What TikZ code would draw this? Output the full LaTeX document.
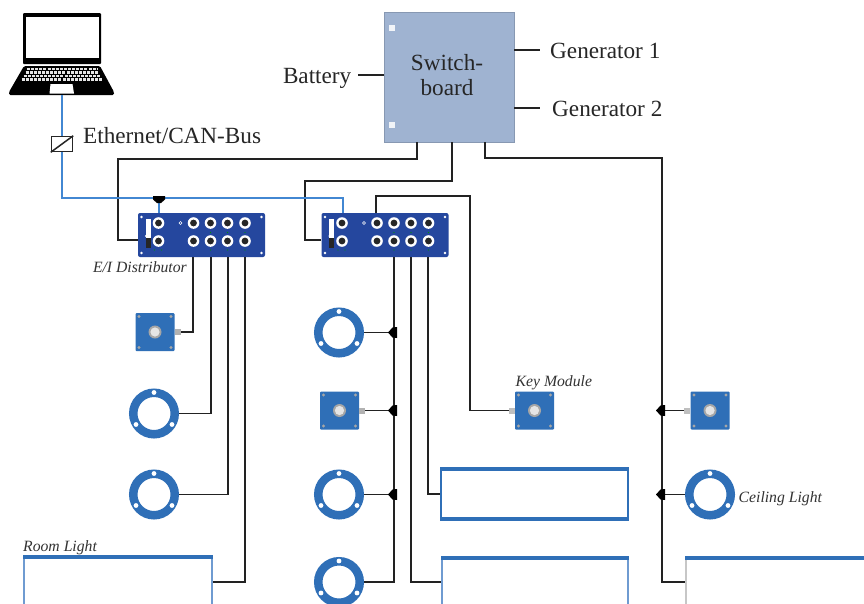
\documentclass[tikz,border=0pt]{standalone}
\usepackage{fontspec}
\setmainfont{Liberation Serif}
\definecolor{swb}{HTML}{9FB3D1}
\definecolor{devblue}{HTML}{2F6FB7}
\definecolor{panelside}{HTML}{6F9BD1}
\definecolor{distblue}{HTML}{25479E}
\definecolor{ln}{HTML}{222222}
\definecolor{eth}{HTML}{4287D2}
\tikzset{
  bigtext/.style={font=\fontsize{23.2}{25.5}\selectfont,text=black!85,inner sep=0pt,align=center},
  smalltext/.style={font=\fontsize{15.7}{17}\selectfont\itshape,text=black!80,inner sep=0pt},
  wire/.style={draw=ln,line width=1.5pt,line join=miter},
  ethwire/.style={draw=eth,line width=1.8pt},
  board/.style={fill=swb,draw=swb!85!black,line width=0.6pt,minimum width=130pt,minimum height=130pt,inner sep=0pt},
  distbox/.style={fill=distblue,rounded corners=2pt,minimum width=127pt,minimum height=44pt,inner sep=0pt},
  ringnode/.style={circle,draw=devblue,fill=white,line width=8.5pt,minimum size=41.5pt,inner sep=0pt},
  keynode/.style={fill=devblue,rounded corners=1pt,minimum width=39pt,minimum height=38pt,inner sep=0pt},
  panel/.style={draw=panelside,fill=white,line width=2.2pt,inner sep=0pt,anchor=north west},
  paneltop/.style={draw=devblue,line width=3.2pt},
  laptopbox/.style={minimum width=105pt,minimum height=82pt,inner sep=0pt},
  convbox/.style={draw=black!85,fill=white,line width=1.5pt,minimum width=21pt,minimum height=15pt,inner sep=0pt}
}
\newcommand{\ringholes}[1]{%
  \fill[white] ([yshift=21pt]#1.center) circle (2.4pt);
  \fill[white] ([xshift=-18pt,yshift=-11pt]#1.center) circle (2.4pt);
  \fill[white] ([xshift=18pt,yshift=-11pt]#1.center) circle (2.4pt);
}
\newcommand{\keydetail}[2]{%
  \foreach \sx/\sy in {-16/-15.5,16/-15.5,-16/15.5,16/15.5}
    \fill[black!35] ([xshift=\sx pt,yshift=\sy pt]#1.center) circle (1.6pt);
  \fill[black!35] (#1.center) circle (6.5pt);
  \fill[black!10] (#1.center) circle (4.6pt);
  \ifnum#2=1
    \fill[black!30] ([xshift=0pt,yshift=-3pt]#1.east) rectangle ([xshift=6pt,yshift=3pt]#1.east);
  \else
    \fill[black!25] ([xshift=0pt,yshift=-3pt]#1.west) rectangle ([xshift=-6pt,yshift=3pt]#1.west);
  \fi
}
\newcommand{\conn}[3]{%
  \fill[white] ([xshift=#2pt,yshift=#3pt]#1.center) circle (5.8pt);
  \fill[black!85] ([xshift=#2pt,yshift=#3pt]#1.center) circle (3.4pt);
}
\newcommand{\distdetail}[1]{%
  \foreach \sx in {-60,60} \foreach \sy in {-18,18}
    \fill[white] ([xshift=\sx pt,yshift=\sy pt]#1.center) circle (1.3pt);
  \fill[white] ([xshift=-56pt,yshift=16pt]#1.center) rectangle ([xshift=-51pt,yshift=-3pt]#1.center);
  \fill[black!85] ([xshift=-56pt,yshift=-3pt]#1.center) rectangle ([xshift=-51pt,yshift=-13pt]#1.center);
  \fill[white] ([xshift=-55pt,yshift=-1pt]#1.center) circle (1.6pt);
  \fill[white] ([xshift=-21pt,yshift=12pt]#1.center) circle (1.8pt);
  \fill[distblue] ([xshift=-21pt,yshift=12pt]#1.center) circle (0.9pt);
  \foreach \sx in {-43,-8,9,26,43.5}{\conn{#1}{\sx}{12}\conn{#1}{\sx}{-6}}
  \foreach \sx in {9,26,43.5}{
    \fill[green!60!black] ([xshift=\sx pt,yshift=2.5pt]#1.center) circle (0.7pt);
    \fill[green!60!black] ([xshift=\sx pt,yshift=-15pt]#1.center) circle (0.7pt);}
  \foreach \sx in {-47,-40}
    \fill[green!60!black] ([xshift=\sx pt,yshift=-15pt]#1.center) circle (0.7pt);
}
\newcommand{\tleft}[1]{\fill[black] ([xshift=3pt,yshift=5.5pt]#1) -- ([xshift=-1.5pt,yshift=5pt]#1) -- ([xshift=-6pt,yshift=0pt]#1) -- ([xshift=-1.5pt,yshift=-5pt]#1) -- ([xshift=3pt,yshift=-5.5pt]#1) -- cycle;}
\begin{document}
\begin{tikzpicture}[x=1pt,y=-1pt]
\useasboundingbox (0,0) rectangle (864,603);
\clip (0,0) rectangle (864,603);
\fill[white] (0,0) rectangle (864,603);

% laptop
\node[laptopbox] (laptop) at (62,54) {};
\fill[black,rounded corners=1pt] (23,13) rectangle (101,64);
\fill[white] (25.5,16.5) rectangle (98.5,57.5);
\fill[black,rounded corners=1.5pt] (24,66) -- (100,66) -- (114,92) -- (114,95) -- (9,95) -- (9,92) -- cycle;
\foreach \yy/\xa/\xb in {69/27/97,72.5/25.5/98.5,76/23.5/100.5,79.5/21.5/102.5}
  \draw[white!90!black,line width=2.2pt,dash pattern=on 3pt off 1.1pt] (\xa,\yy) -- (\xb,\yy);
\fill[white] (50.5,84) -- (72.5,84) -- (74,93.5) -- (49.5,93.5) -- cycle;

% main nodes
\node[board] (sw) at (449,77) {};
\fill[white!85!swb] (389,25) rectangle (395,31);
\fill[white!85!swb] (389,122) rectangle (395,128);
\node[bigtext] (swl) at (447,75) {Switch-\\board};
\node[bigtext,anchor=east] (bat) at (351.5,78) {Battery};
\node[bigtext,anchor=west] (g1) at (550,51) {Generator 1};
\node[bigtext,anchor=west] (g2) at (552,109) {Generator 2};
\node[bigtext,anchor=west] (ethl) at (83,136) {Ethernet/CAN-Bus};

\node[distbox] (d1) at (201.5,235) {};
\node[distbox] (d2) at (385,235) {};
\node[convbox] (conv) at (62,144) {};
\draw[black!85,line width=1.5pt] (conv.south west) -- (conv.north east);

\node[keynode] (k1) at (155,332) {};
\node[ringnode] (r1) at (154,413.5) {};
\node[ringnode] (r2) at (154,494.5) {};
\node[panel,minimum width=188pt,minimum height=70pt] (p1) at (23,557) {};

\node[ringnode] (r3) at (339,332.5) {};
\node[keynode] (k2) at (339.5,410.5) {};
\node[ringnode] (r4) at (339,494.5) {};
\node[ringnode] (r5) at (339,582) {};

\node[keynode] (k3) at (534.5,410.5) {};
\node[panel,draw=devblue,minimum width=186.5pt,minimum height=48pt] (p2) at (440,469) {};
\node[panel,minimum width=186pt,minimum height=70pt] (p3) at (441,558) {};

\node[keynode] (k4) at (710,410.5) {};
\node[ringnode] (r6) at (710,494.5) {};
\node[panel,draw=black!22,minimum width=200pt,minimum height=70pt] (p4) at (685,558) {};
\draw[paneltop] (p1.north west) -- (p1.north east);
\draw[paneltop] (p2.north west) -- (p2.north east);
\draw[paneltop] (p2.south west) -- (p2.south east);
\draw[paneltop] (p3.north west) -- (p3.north east);
\draw[paneltop] (p4.north west) -- (p4.north east);

\node[smalltext,anchor=east] (l1) at (187,267) {E/I Distributor};
\node[smalltext,anchor=west] (l2) at (515.5,382.5) {Key Module};
\node[smalltext,anchor=west] (l3) at (738.5,498.5) {Ceiling Light};
\node[smalltext,anchor=west] (l4) at (23,547.5) {Room Light};

% switchboard wires
\draw[wire] (358,75) -- (sw.west |- 0,75);
\draw[wire] (sw.east |- 0,50) -- (540,50);
\draw[wire] (sw.east |- 0,108) -- (540,108);
\draw[wire] ([xshift=-32pt]sw.south) -- (417,159) -- (118,159) -- (118,240) -- ([yshift=-5pt]d1.west);
\draw[wire] ([xshift=3pt]sw.south) -- (452,181) -- (305,181) -- (305,240) -- ([yshift=-5pt]d2.west);
\draw[wire] ([xshift=36pt]sw.south) -- (485,158) -- (662,158) |- (p4.west |- 0,582);
\draw[wire] ([xshift=-9pt]d2.north) -- (376,196) -- (470,196) |- (k3.west);

% ethernet
\coordinate (tap) at (159,198);
\coordinate (bend) at (343,198);
\draw[ethwire] (laptop.south) -- (conv.north);
\draw[ethwire] (conv.south) |- (bend) -- ([xshift=-42pt]d2.north);
\draw[ethwire] (tap) -- ([xshift=-42.5pt]d1.north);

% d1 outputs
\draw[wire] ([xshift=-8.5pt]d1.south) |- (k1.east);
\draw[wire] ([xshift=9.5pt]d1.south) |- (r1.east);
\draw[wire] ([xshift=26.5pt]d1.south) |- (r2.east);
\draw[wire] ([xshift=43.5pt]d1.south) |- (p1.east |- 0,582);

% d2 outputs
\draw[wire] ([xshift=9pt]d2.south) |- (r5.east);
\draw[wire] ([xshift=26pt]d2.south) |- (p3.west |- 0,582);
\draw[wire] ([xshift=43pt]d2.south) |- (p2.west |- 0,494);
\coordinate (j1) at (394,332.5);
\coordinate (j2) at (394,410.5);
\coordinate (j3) at (394,494.5);
\draw[wire] (r3.east) -- (j1);
\draw[wire] (k2.east) -- (j2);
\draw[wire] (r4.east) -- (j3);
\tleft{j1}\tleft{j2}\tleft{j3}

% right branch
\coordinate (j4) at (662,410.5);
\coordinate (j5) at (662,494.5);
\draw[wire] (j4) -- (k4.west);
\draw[wire] (j5) -- (r6.west);
\tleft{j4}\tleft{j5}

% ethernet tap marker
\fill[black] (153,196) -- (165,196) -- (165,199.5) -- (161,203) -- (157,203) -- (153,199.5) -- cycle;

% device details
\distdetail{d1}\distdetail{d2}
\foreach \r in {r1,r2,r3,r4,r5,r6}{\ringholes{\r}}
\keydetail{k1}{1}\keydetail{k2}{1}\keydetail{k3}{0}\keydetail{k4}{0}
\end{tikzpicture}
\end{document}
